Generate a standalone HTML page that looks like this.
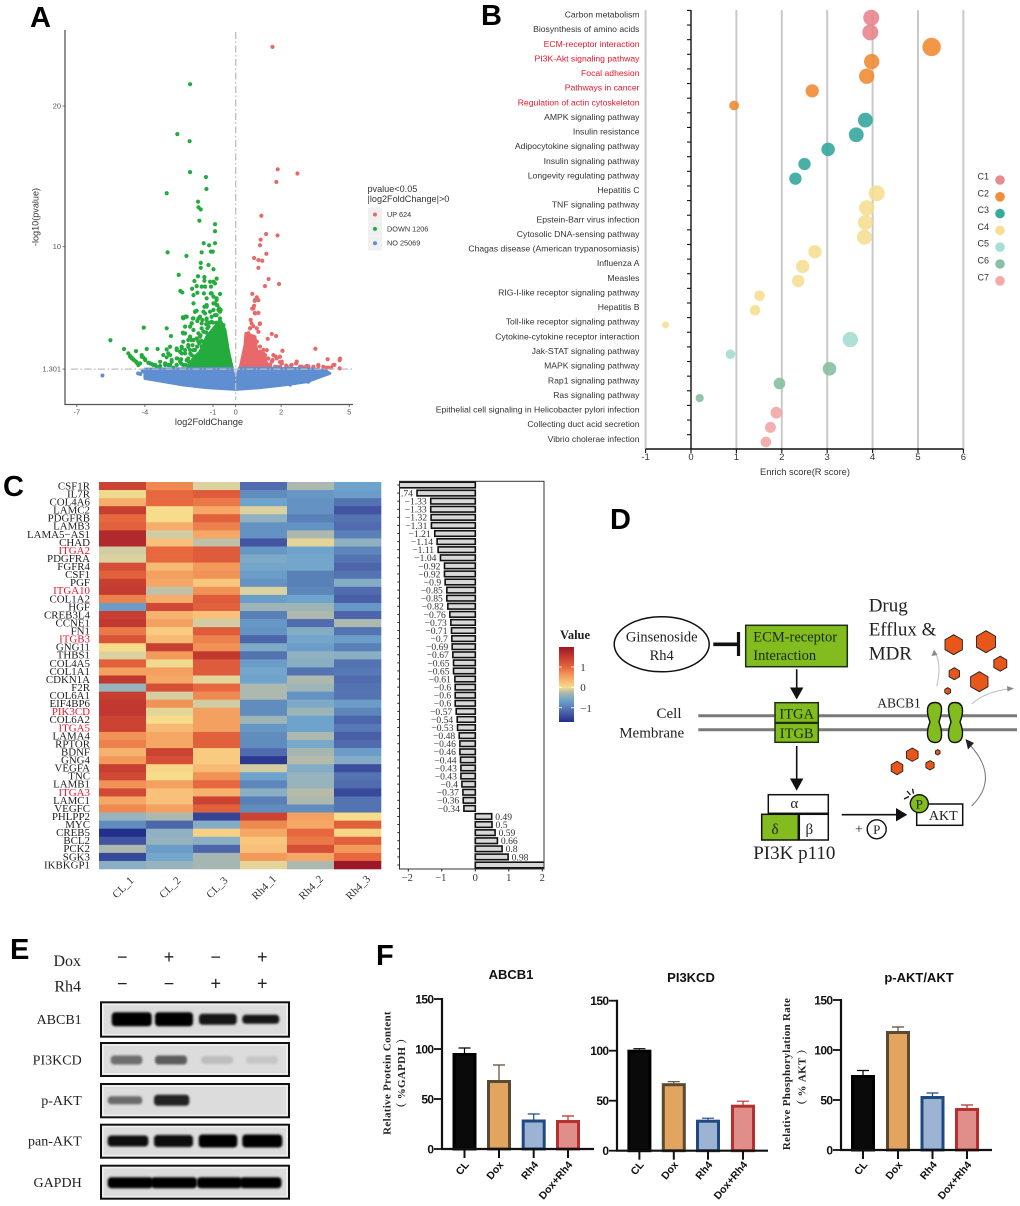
<!DOCTYPE html>
<html lang="en">
<head>
<meta charset="utf-8">
<title>Multi-panel figure</title>
<style>
html,body{margin:0;padding:0;background:#fff;}
svg{display:block;}
.ser{font-family:"Liberation Serif",serif;}
.san{font-family:"Liberation Sans",sans-serif;}
.pl{font-family:"Liberation Sans",sans-serif;font-weight:bold;font-size:29px;fill:#000;}
</style>
</head>
<body>
<svg id="fig" xmlns="http://www.w3.org/2000/svg" width="1020" height="1206" viewBox="0 0 1020 1206">
<defs>
<filter id="bl" x="-20%" y="-80%" width="140%" height="260%"><feGaussianBlur stdDeviation="1.1"/></filter>
<linearGradient id="cbar" x1="0" y1="0" x2="0" y2="1">
<stop offset="0" stop-color="#9c1727"/><stop offset=".16" stop-color="#cb4332"/><stop offset=".27" stop-color="#e7673f"/><stop offset=".38" stop-color="#f39a5b"/><stop offset=".47" stop-color="#f8c07a"/><stop offset=".54" stop-color="#f5dc8b"/><stop offset=".6" stop-color="#b5baa9"/><stop offset=".71" stop-color="#6ea3cb"/><stop offset=".8" stop-color="#5a80b8"/><stop offset=".89" stop-color="#4558a4"/><stop offset="1" stop-color="#232f8a"/>
</linearGradient>
<clipPath id="barclip"><rect x="399.5" y="481" width="144.5" height="388"/></clipPath>
</defs>

<text class="pl" x="30" y="27">A</text>
<text class="pl" x="481" y="25">B</text>
<text class="pl" x="3" y="496">C</text>
<text class="pl" x="610" y="529">D</text>
<text class="pl" x="10" y="959">E</text>
<text class="pl" x="376" y="965">F</text>

<g id="panelA"></g>
<g id="panelB"></g>
<g id="panelC"></g>
<g id="panelC2"></g>

<g id="colorLegend">
<text class="ser" x="575" y="639" text-anchor="middle" font-size="12.5" font-weight="bold" fill="#222">Value</text>
<rect x="559" y="647" width="15" height="75" fill="url(#cbar)"/>
<path d="M559 667h3M571 667h3M559 687.3h3M571 687.3h3M559 707.7h3M571 707.7h3" stroke="#fff" stroke-width=".8"/>
<text class="ser" x="583" y="671" text-anchor="middle" font-size="11" fill="#333">1</text>
<text class="ser" x="583" y="691" text-anchor="middle" font-size="11" fill="#333">0</text>
<text class="ser" x="586" y="712" text-anchor="middle" font-size="11" fill="#333">−1</text>
</g>

<g id="panelD" class="ser" fill="#222">
<ellipse cx="661.7" cy="644.3" rx="47.5" ry="27.5" fill="#fff" stroke="#111" stroke-width="1.5"/>
<text x="661.7" y="641.7" text-anchor="middle" font-size="14.5">Ginsenoside</text>
<text x="661.7" y="660" text-anchor="middle" font-size="14.5">Rh4</text>
<path d="M713.3 644.3H738.3" stroke="#111" stroke-width="3.6"/>
<path d="M738.5 632V656" stroke="#111" stroke-width="3.2"/>
<rect x="745.7" y="625.3" width="101.6" height="41.4" fill="#83bc1f" stroke="#1c2f10" stroke-width="1.5"/>
<text x="753.3" y="641.7" font-size="14.5" fill="#1a2a0c">ECM-receptor</text>
<text x="753.3" y="660" font-size="14.5" fill="#1a2a0c">Interaction</text>
<path d="M796.7 669.3V688" stroke="#111" stroke-width="1.6"/>
<path d="M790 687.5H803.4L796.7 699.5Z" fill="#111"/>
<path d="M698.3 715.7H1017" stroke="#7a7a7a" stroke-width="3"/>
<path d="M698.3 729.7H1017" stroke="#7a7a7a" stroke-width="3"/>
<text x="669" y="718" text-anchor="middle" font-size="15">Cell</text>
<text x="651.7" y="737.3" text-anchor="middle" font-size="15">Membrane</text>
<rect x="775" y="702.7" width="43.3" height="19.8" fill="#83bc1f" stroke="#1c2f10" stroke-width="1.5"/>
<rect x="775" y="723.3" width="43.3" height="19" fill="#83bc1f" stroke="#1c2f10" stroke-width="1.5"/>
<text x="796.7" y="718.3" text-anchor="middle" font-size="14.5" fill="#1a2a0c">ITGA</text>
<text x="796.7" y="738" text-anchor="middle" font-size="14.5" fill="#1a2a0c">ITGB</text>
<path d="M796.7 746V779" stroke="#111" stroke-width="1.6"/>
<path d="M790 778.5H803.4L796.7 790.7Z" fill="#111"/>
<rect x="768.3" y="794.7" width="60" height="18.6" fill="#fff" stroke="#111" stroke-width="1.5"/>
<rect x="761.7" y="814.3" width="36.6" height="25.7" fill="#83bc1f" stroke="#111" stroke-width="1.5"/>
<rect x="799.3" y="814.3" width="29" height="25.7" fill="#fff" stroke="#111" stroke-width="1.5"/>
<text x="794.3" y="808" text-anchor="middle" font-size="15">α</text>
<text x="775" y="834" text-anchor="middle" font-size="15">δ</text>
<text x="809.3" y="834" text-anchor="middle" font-size="15">β</text>
<text x="794.3" y="859" text-anchor="middle" font-size="19">PI3K p110</text>
<path d="M841.7 814.7H897" stroke="#111" stroke-width="1.6"/>
<path d="M896 808V821.4L907.3 814.7Z" fill="#111"/>
<text x="859" y="833.5" text-anchor="middle" font-size="14">+</text>
<circle cx="876.7" cy="829.3" r="9.5" fill="#fff" stroke="#111" stroke-width="1.4"/>
<text x="876.7" y="834" text-anchor="middle" font-size="13">P</text>
<rect x="916.7" y="804" width="46" height="21.3" fill="#fff" stroke="#111" stroke-width="1.5"/>
<text x="943.3" y="820" text-anchor="middle" font-size="14">AKT</text>
<circle cx="919.3" cy="803.7" r="9" fill="#83bc1f" stroke="#111" stroke-width="1.4"/>
<text x="919.3" y="808.3" text-anchor="middle" font-size="13">P</text>
<path d="M904 799L909 796.5M907 791L910.5 795M912.5 788.7L913.5 793.7" stroke="#111" stroke-width="1.3"/>
<text x="899" y="707.3" text-anchor="middle" font-size="13.5">ABCB1</text>
<path d="M935 702.5C926 702.5 926 712 930 722C926 732 926 742.5 935.5 742.5C944 742.5 942 730 939 722C942 712 944 702.5 935 702.5Z" fill="#83bc1f" stroke="#111" stroke-width="1.4"/>
<path d="M955 702.5C964 702.5 964 712 960 722C964 732 964 742.5 954.5 742.5C946 742.5 948 730 951 722C948 712 946 702.5 955 702.5Z" fill="#83bc1f" stroke="#111" stroke-width="1.4"/>
<path d="M936.7 686Q942 665 935 652" fill="none" stroke="#bdbdbd" stroke-width="1"/>
<path d="M931.5 656L934 649.5L937.5 655Z" fill="#8a8a8a"/>
<path d="M971.7 704Q985 692 1008 689" fill="none" stroke="#bdbdbd" stroke-width="1"/>
<path d="M1007 686L1014 688.5L1007.5 691.5Z" fill="#8a8a8a"/>
<path d="M971.7 806Q1000 778 970 745" fill="none" stroke="#777" stroke-width="1"/>
<path d="M965.5 739L974 743L968 749.5Z" fill="#222"/>
<text x="868.7" y="611.7" font-size="19">Drug</text>
<text x="868.7" y="635.7" font-size="19">Efflux &amp;</text>
<text x="868.7" y="659.3" font-size="19">MDR</text>
<g id="hexes"></g>
</g>

<g id="panelE" class="ser" fill="#222">
<text x="81" y="966" text-anchor="end" font-size="16">Dox</text>
<text x="81" y="991.7" text-anchor="end" font-size="16">Rh4</text>
</g>

<g id="panelF"></g>
</svg>

<script>
/* ---------- Panel A data ---------- */
const upLfc=[1.62,1.85,2.72,1.79,1.13,1.34,1.84,1.10,1.07,1.35,0.81,1.0,1.17,1.0,1.45,1.29,1.91,0.73,0.93,0.84,1.0,0.81,0.73,0.84,1.0,0.66,1.06,0.63,0.78,1.59,1.78,1.41,0.56,1.0,3.51,2.06,4.05,4.6,4.58,4.58,4.35,4.07,3.64,3.2,3.03,2.66,2.44,2.22,1.95,1.76,1.63,1.37,1.22,1.44,1.07,0.93,1.29,1.51,1.81,2.03,1.0,1.15,2.83,3.42,4.2,0.85,0.78,0.85,0.70,0.63,0.93,1.07,0.93,1.07,1.22,1.29,1.37,1.15,1.59,1.81,1.66,2.06,1.95,2.03,2.25,2.47,2.69,2.91,3.13,3.64,1.22,1.51,1.73,1.95,4.01,4.30,3.86];
const upP=[24.2,15.5,15.2,14.6,12.2,10.9,10.8,10.5,10.1,9.5,9.2,9.05,9.0,8.5,7.7,7.2,7.35,6.65,6.4,6.15,6.2,5.8,5.6,5.3,5.3,4.8,4.5,4.2,4.35,3.8,3.65,3.45,3.85,3.95,2.75,2.6,2.0,2.05,1.93,1.35,1.6,1.4,1.5,1.5,1.42,1.7,1.56,1.56,1.8,2.2,1.95,2.65,2.4,2.05,2.9,3.25,1.7,1.6,1.45,1.7,2.4,2.1,1.47,1.47,1.4,6.21,5.62,5.26,4.55,4.2,4.2,4.55,2.42,2.54,2.66,2.30,2.06,2.06,1.83,2.06,2.30,2.61,2.18,1.83,1.47,1.59,1.83,1.47,1.52,1.59,1.71,1.47,1.47,1.47,1.40,1.59,1.47];
const downLfc=[-2.01,-2.57,-2.03,-2.01,-1.31,-1.29,-3.04,-1.66,-1.64,-1.54,-1.6,-0.91,-0.91,-1.41,-1.17,-0.91,-3.0,-2.17,-1.5,-1.09,-1.01,-1.54,-1.54,-1.2,-0.98,-2.51,-1.66,-2.44,-2.35,-4.05,-3.04,-2.85,-5.52,-4.92,-4.39,-3.92,-3.44,-1.38,-1.38,-1.82,-1.72,-1.92,-1.5,-1.35,-1.13,-0.98,-0.84,-0.91,-1.09,-1.1,-0.69,-0.98,-0.84,-1.69,-1.86,-1.4,-1.86,-1.38,-1.28,-0.98,-0.81,-0.73,-1.13,-1.35,-1.57,-1.79,-1.72,-2.23,-2.33,-2.16,-1.89,-1.94,-1.69,-1.47,-1.28,-1.06,-0.84,-0.69,-0.69,-2.33,-1.86,-1.64,-1.42,-4.73,-4.65,-4.58,-4.48,-4.36,-4.29,-4.21,-4.14,-3.99,-3.85,-3.7,-3.55,-3.04,-2.89,-2.6,-2.38,-3.19,-2.97,-3.33,-3.11,-2.82,-2.6,-2.38,-2.23,-2.31,-2.01,-1.94,-2.09,-1.72,-1.6,-1.86,-2.16,-2.6,-2.89,-1.9,-1.8,-1.75,-2.0,-1.7,-2.2,-2.4,-2.4,-2.05,-1.5,-1.3,-1.55,-1.25,-1.15,-1.0,-1.3,-0.85,-1.65,-1.5,-3.04,-2.89,-3.11,-2.97,-2.82,-2.60,-2.45,-2.57,-2.45,-2.31,-2.60,-2.75,-2.38,-2.23,-2.09,-2.01,-2.09,-1.94,-1.79,-1.86,-2.01,-1.64,-1.57,-1.50,-1.57,-1.35,-1.28,-1.64,-1.42,-1.94,-1.72,-1.42,-1.20,-1.06,-1.28,-1.50,-0.91,-0.76,-0.98,-0.84,-0.66,-1.28,-1.42,-1.79,-1.64,-1.86,-2.19,-2.31,-2.23,-2.01,-1.94,-0.54,-2.23,-2.09,-2.31,-1.28,-1.06,-0.84,-0.91,-4.65,-4.58,-4.51,-4.39,-4.14,-4.07,-3.99,-3.77,-3.63,-3.48,-3.33];
const downP=[21.55,18.0,17.5,15.3,14.95,14.1,13.8,13.2,12.8,12.65,11.85,11.6,11.1,10.25,10.1,10.25,9.6,9.35,9.6,9.65,9.65,8.85,8.5,8.7,8.4,8.0,7.9,6.85,6.75,4.25,4.2,3.65,3.35,2.73,2.58,2.73,2.73,7.84,7.58,7.56,7.2,7.01,7.16,7.16,7.51,7.51,7.73,7.39,7.16,6.68,6.64,6.45,6.21,6.73,6.56,6.68,5.97,5.73,5.85,5.97,5.85,5.62,5.38,5.26,5.02,5.38,5.45,5.02,4.98,5.02,4.9,4.55,4.72,4.79,4.9,5.02,5.14,5.38,4.9,3.89,4.08,3.84,3.96,2.42,2.18,2.06,1.94,1.75,1.59,1.71,2.18,1.94,1.75,1.66,1.59,2.7,2.89,2.77,2.89,2.3,2.42,1.82,1.59,1.82,2.06,2.42,2.65,3.25,3.6,3.36,2.89,3.48,3.13,2.65,1.94,1.59,1.59,3.0,2.2,1.8,2.4,2.9,1.6,1.7,2.0,1.8,4.2,4.5,3.7,4.2,4.6,4.6,3.9,4.6,3.3,3.3,2.14,2.30,1.71,1.59,1.95,2.66,2.54,2.06,1.83,1.59,1.59,1.40,2.78,2.42,3.01,2.66,2.06,2.30,2.66,3.37,3.60,3.25,3.60,2.89,2.18,2.66,2.18,1.71,1.71,1.59,1.47,3.96,4.32,4.67,4.79,4.55,5.14,5.50,5.50,5.86,5.50,5.74,5.38,5.38,4.91,4.91,5.03,4.91,4.32,4.32,4.55,4.43,3.84,3.37,3.84,6.33,6.68,6.33,5.97,2.23,2.11,1.99,1.83,2.30,2.13,1.99,1.71,1.59,1.47,1.52];
const noLfc=[-5.87,-4.3,-4.2,-4.1,-3.95,3.0,3.2,2.6,3.4,3.7,3.8,4.0,2.4];
const noP=[0.85,1.0,0.95,1.15,0.7,0.5,0.4,0.3,0.7,0.9,1.0,1.1,0.2];
/* dense clouds as envelopes: log2FC and -log10p */
const downCloudLfc=[-2.13,-1.87,-1.57,-1.28,-0.91,-0.69,-0.47,-0.33,-0.15];
const downCloudP=[1.36,2.07,2.54,3.6,4.31,4.79,4.08,2.66,1.36];
const upCloudLfc=[0.19,0.41,0.45,0.85,0.92,1.29,1.51];
const upCloudP=[1.36,3.0,3.84,3.6,2.66,1.95,1.36];
const noCloudLfc=[-4.0,-0.15,-0.02,0.02,0.15,2.5,3.5,3.9,4.15,3.13,2.1,1.07,0,-1.28,-2.3,-4.0];
const noCloudP=[1.3,1.35,0.35,0.35,1.35,1.35,1.3,1.2,1.0,0.4,0.17,-0.02,-0.14,-0.02,0.17,0.64];
const volXTicks=[-7,-4,-1,0,2,5];
const volYTicks=[20,10,1.301];
const volLegendLabels=["UP 624","DOWN 1206","NO 25069"];

/* ---------- Panel B data ---------- */
const pathways=["Carbon metabolism","Biosynthesis of amino acids","ECM-receptor interaction","PI3K-Akt signaling pathway","Focal adhesion","Pathways in cancer","Regulation of actin cytoskeleton","AMPK signaling pathway","Insulin resistance","Adipocytokine signaling pathway","Insulin signaling pathway","Longevity regulating pathway","Hepatitis C","TNF signaling pathway","Epstein-Barr virus infection","Cytosolic DNA-sensing pathway","Chagas disease (American trypanosomiasis)","Influenza A","Measles","RIG-I-like receptor signaling pathway","Hepatitis B","Toll-like receptor signaling pathway","Cytokine-cytokine receptor interaction","Jak-STAT signaling pathway","MAPK signaling pathway","Rap1 signaling pathway","Ras signaling pathway","Epithelial cell signaling in Helicobacter pylori infection","Collecting duct acid secretion","Vibrio cholerae infection"];
const enrichScores=[3.97,3.95,5.3,3.98,3.87,2.67,0.95,3.84,3.64,3.02,2.5,2.3,4.09,3.87,3.84,3.82,2.73,2.46,2.36,1.51,1.41,-0.56,3.51,0.87,3.05,1.95,0.19,1.88,1.75,1.65];
const geneCounts=[64,64,85,59,59,44,24,55,55,46,38,38,64,59,56,56,44,44,38,28,28,12,59,23,46,34,17,34,30,28];
const clusterOf=[1,1,2,2,2,2,2,3,3,3,3,3,4,4,4,4,4,4,4,4,4,4,5,5,6,6,6,7,7,7];
const highlighted=[2,3,4,5,6];
const enrichTicks=[-1,0,1,2,3,4,5,6];
const clusterNames=["C1","C2","C3","C4","C5","C6","C7"];

/* ---------- Panel C data ---------- */
const genes=["CSF1R","IL7R","COL4A6","LAMC2","PDGFRB","LAMB3","LAMA5−AS1","CHAD","ITGA2","PDGFRA","FGFR4","CSF1","PGF","ITGA10","COL1A2","HGF","CREB3L4","CCNE1","FN1","ITGB3","GNG11","THBS1","COL4A5","COL1A1","CDKN1A","F2R","COL6A1","EIF4BP6","PIK3CD","COL6A2","ITGA5","LAMA4","RPTOR","BDNF","GNG4","VEGFA","TNC","LAMB1","ITGA3","LAMC1","VEGFC","PHLPP2","MYC","CREB5","BCL2","PCK2","SGK3","IKBKGP1"];
const redGenes=["ITGA2","ITGA10","ITGB3","PIK3CD","ITGA5","ITGA3"];
const samples=["CL_1","CL_2","CL_3","Rh4_1","Rh4_2","Rh4_3"];
const heatValues=[
[1.4,.9,.05,-1.15,-.2,-.7],[.2,1.1,1.2,-.9,-.8,-.75],[.65,1.1,1.0,-.7,-.85,-1.1],[1.45,.25,.7,.05,-.85,-1.35],
[1.1,.25,1.15,-.4,-1.0,-1.1],[1.15,.65,.95,-.85,-.85,-1.15],[1.75,-.0,.7,-.85,-.2,-1.0],[1.75,.5,-.1,-1.35,.1,-.4],
[.0,1.1,1.2,-.8,-.7,-.95],[.05,1.1,1.2,-.55,-.65,-1.1],[1.3,.55,.8,-.65,-.65,-1.2],[1.15,.75,.85,-.75,-1.0,-1.1],
[1.45,.7,.45,-.85,-1.0,-.5],[1.5,-.1,.85,.05,-.95,-1.15],[.95,.65,1.2,-.75,-.7,-1.25],[-.75,1.35,1.15,-.3,-.3,-.8],
[1.45,.6,.5,-1.0,-.2,-1.2],[1.55,.75,.0,-.8,-1.15,-.2],[1.0,.4,1.2,-.85,-.5,-1.1],[1.25,.55,.95,-1.2,-.65,-.75],
[.25,1.45,.85,-.55,-.75,-1.0],[.05,.8,1.55,-1.1,-.4,-.45],[1.15,.2,1.2,-.75,-.45,-1.1],[.75,.75,1.2,-.65,-1.1,-1.05],
[1.55,.7,.1,-.7,-.2,-1.15],[-.35,1.3,1.1,-.2,-.3,-1.1],[1.45,.02,.9,-.2,-.85,-1.1],[1.55,.85,.0,-.9,-.55,-.75],
[1.55,.1,.75,-.9,-.3,-.95],[1.4,.25,.75,-.3,-.7,-1.2],[1.4,.55,.75,-.8,-.7,-1.05],[.85,.7,1.15,-.9,-.2,-1.25],
[.95,.7,1.15,-.9,-.6,-1.15],[.6,1.4,.4,-1.15,-.25,-.75],[.8,1.3,.4,-1.6,-.15,-.5],[1.45,.3,.55,.0,-.5,-1.4],
[1.35,.25,.85,-.7,-.35,-1.1],[.85,.75,1.1,-.95,-.35,-1.15],[1.35,.5,.6,-.45,-.15,-1.45],[.7,.5,1.4,-1.0,-.2,-1.1],
[.9,.75,1.15,-.9,-.9,-1.1],[-.35,-.2,-1.5,1.4,.75,.25],[-.9,-1.2,-.5,.9,.7,1.15],[-1.7,-.4,.35,.7,1.1,.3],
[-1.35,-.35,-.45,.45,1.0,1.15],[-.2,-.75,-1.2,.5,1.3,.8],[-1.45,-.65,-.25,.8,.7,1.1],[-.45,-.35,-.25,.1,-.2,2.0]];
const foldChanges=[-2.3,-1.74,-1.33,-1.33,-1.32,-1.31,-1.21,-1.14,-1.11,-1.04,-0.92,-0.92,-0.9,-0.85,-0.85,-0.82,-0.76,-0.73,-0.71,-0.7,-0.69,-0.67,-0.65,-0.65,-0.61,-0.6,-0.6,-0.6,-0.57,-0.54,-0.53,-0.48,-0.46,-0.46,-0.44,-0.43,-0.43,-0.4,-0.37,-0.36,-0.34,0.49,0.5,0.59,0.66,0.8,0.98,2.3];
const fcTicks=[-2,-1,0,1,2];

/* ---------- Panel E data ---------- */
const doxSigns=["−","+","−","+"];
const rh4Signs=["−","−","+","+"];
const blotNames=["ABCB1","PI3KCD","p-AKT","pan-AKT","GAPDH"];
const blotBandIntensity=[[1,1,.92,.9],[.5,.58,.14,.1],[.52,.85,0,0],[.97,.97,.98,.98],[.98,.98,.98,.98]];

/* ---------- Panel F data ---------- */
const groups=["CL","Dox","Rh4","Dox+Rh4"];
const abcb1Means=[96,69,29.5,29];
const abcb1Errs=[5,15,5.5,4];
const pi3kcdMeans=[101,67.5,31,46];
const pi3kcdErrs=[1,1.5,1.5,3.5];
const paktMeans=[75,119,54,42];
const paktErrs=[4.5,4,3,3];
const barTicks=[0,50,100,150];

/* ---------- helpers ---------- */
const NS="http://www.w3.org/2000/svg";
function mk(tag,attrs,parent){const e=document.createElementNS(NS,tag);for(const k in attrs)e.setAttribute(k,attrs[k]);parent.appendChild(e);return e;}
const $=id=>document.getElementById(id);
const SANS='"Liberation Sans",sans-serif',SERIF='"Liberation Serif",serif';

/* ---------- Panel A ---------- */
(function(){
const g=$("panelA");
const X=v=>235.7+22.7*v, Y=v=>246.7-(v-10)*14.07;
let el;
el=mk("path",{d:"M65 30V404.5H353",fill:"none",stroke:"#555","stroke-width":1.3},g);


volXTicks.forEach(t=>{
  const tk=mk("path",{d:`M${X(t)} 404.5v2.5`,stroke:"#555","stroke-width":.8},g);
  
  
  const lb=mk("text",{x:X(t),y:414.5,"text-anchor":"middle","font-size":7.4,"font-family":SANS,fill:"#555"},g);
  
  
  lb.textContent=t;
});
volYTicks.forEach(t=>{
  const tk=mk("path",{d:`M62.5 ${Y(t)}H65`,stroke:"#555","stroke-width":.8},g);
  
  
  const lb=mk("text",{x:61,y:Y(t)+2.5,"text-anchor":"end","font-size":7.4,"font-family":SANS,fill:"#555"},g);
  
  
  lb.textContent=t;
});
el=mk("text",{x:209,y:425,"text-anchor":"middle","font-size":9.3,"font-family":SANS,fill:"#333"},g);


el.textContent="log2FoldChange";
el=mk("text",{transform:"translate(38.5,217) rotate(-90)","text-anchor":"middle","font-size":9.1,"font-family":SANS,fill:"#333"},g);


el.textContent="-log10(pvalue)";

function cloud(lf,pv,col,name){
  const d=lf.map((v,i)=>(i?"L":"M")+X(v)+" "+Y(pv[i])).join("")+"Z";
  const c=mk("path",{d:d,fill:col,stroke:col,"stroke-width":3,"stroke-linejoin":"round"},g);
  
  
}
cloud(downCloudLfc,downCloudP,"#24ab3d",'down-regulated-cloud');
downLfc.forEach((v,i)=>{
  const c=mk("circle",{cx:X(v),cy:Y(downP[i]),r:2.1,fill:"#24ab3d"},g);
  
  
});
cloud(upCloudLfc,upCloudP,"#e8696b",'up-regulated-cloud');
upLfc.forEach((v,i)=>{
  const c=mk("circle",{cx:X(v),cy:Y(upP[i]),r:2.1,fill:"#e8696b"},g);
  
  
});
cloud(noCloudLfc,noCloudP,"#5f8fd0",'not-significant-cloud');
noLfc.forEach((v,i)=>{
  const c=mk("circle",{cx:X(v),cy:Y(noP[i]),r:2,fill:"#5f8fd0"},g);
  
  
});
el=mk("path",{d:"M235.7 32V400",stroke:"#bdbdbd","stroke-width":1.3,"stroke-dasharray":"7 2.5 1.5 2.5",fill:"none"},g);


el=mk("path",{d:`M71 ${Y(1.301)}H353`,stroke:"#bdbdbd","stroke-width":1.3,"stroke-dasharray":"7 2.5 1.5 2.5",fill:"none"},g);


el=mk("text",{x:367.5,y:192,"font-size":9.1,"font-family":SANS,fill:"#333"},g);


el.textContent="pvalue<0.05";
el=mk("text",{x:367.5,y:202,"font-size":9.1,"font-family":SANS,fill:"#333"},g);


el.textContent="|log2FoldChange|>0";
const cols=["#e8696b","#24ab3d","#5f8fd0"];
volLegendLabels.forEach((t,i)=>{
  const y=214.5+14.4*i;
  const bx=mk("rect",{x:368,y:y-7,width:14,height:14,fill:"#f0f0f0"},g);
  
  
  const dot=mk("circle",{cx:375,cy:y,r:2,fill:cols[i]},g);
  
  
  const lb=mk("text",{x:387,y:y+2.4,"font-size":7.3,"font-family":SANS,fill:"#333"},g);
  
  
  lb.textContent=t;
});
})();

/* ---------- Panel B ---------- */
(function(){
const g=$("panelB");
const X=v=>691+45.4*v, Y=i=>17.7+14.63*i;
const clusterCols=["#e8838a","#f0872f","#2fa59b","#f5dd8f","#a4dcd3","#84bda0","#f4a3a3"];
enrichTicks.forEach(t=>{
  if(t!==0){
    const l=mk("path",{d:`M${X(t)} 10V449`,stroke:"#c9c9c9","stroke-width":2},g);
    
    
  }
  const tk=mk("path",{d:`M${X(t)} 449v4`,stroke:"#111","stroke-width":1.1},g);
  
  
  const lb=mk("text",{x:X(t),y:460,"text-anchor":"middle","font-size":9.5,"font-family":SANS,fill:"#333"},g);
  
  
  lb.textContent=t;
});
let el=mk("path",{d:`M${X(0)} 10V449M${X(-1)} 449H${X(6)}`,stroke:"#111","stroke-width":1.4,fill:"none"},g);


el=mk("text",{x:805,y:475,"text-anchor":"middle","font-size":9.3,"font-family":SANS,fill:"#333"},g);


el.textContent="Enrich score(R score)";
pathways.forEach((p,i)=>{
  const tk=mk("path",{d:`M${X(0)-4} ${Y(i)-7.3}H${X(0)}`,stroke:"#111","stroke-width":1.1},g);
  
  
  const lb=mk("text",{x:639.5,y:Y(i)-0.2,"text-anchor":"end","font-size":8.65,"font-family":SANS,fill:highlighted.includes(i)?"#e8162c":"#333"},g);
  
  
  lb.textContent=p;
  const c=mk("circle",{cx:X(enrichScores[i]),cy:Y(i),r:Math.sqrt(geneCounts[i]),fill:clusterCols[clusterOf[i]-1],"fill-opacity":.88},g);
  
  
});
clusterNames.forEach((n,i)=>{
  const y=180+16.8*i;
  const t=mk("text",{x:977.5,y:y-0.5,"font-size":9,"font-family":SANS,fill:"#333"},g);
  
  
  t.textContent=n;
  const c=mk("circle",{cx:1000,cy:y,r:4.8,fill:clusterCols[i],"fill-opacity":.95},g);
  
  
});
})();

/* ---------- Panel C ---------- */
(function(){
const stopVals=[-1.7,-1.3,-1,-.7,-.4,-.15,.05,.25,.5,.8,1.1,1.4,1.7,2];
const stopCols=[[35,47,138],[69,88,164],[90,128,184],[110,163,203],[143,177,194],[181,186,169],[220,210,159],[247,220,139],[248,192,122],[243,154,91],[231,103,63],[203,67,50],[181,45,46],[156,23,39]];
function color(v){
  if(v<=stopVals[0])return `rgb(${stopCols[0]})`;
  for(let i=1;i<stopVals.length;i++){
    if(v<=stopVals[i]){
      const f=(v-stopVals[i-1])/(stopVals[i]-stopVals[i-1]);
      return "rgb("+stopCols[i].map((c,k)=>Math.round(stopCols[i-1][k]+(c-stopCols[i-1][k])*f)).join(",")+")";
    }
  }
  return `rgb(${stopCols[stopCols.length-1]})`;
}
const g=$("panelC");
const x0=99,cw=47,y0=482,rh=387/48;
heatValues.forEach((row,r)=>{
  row.forEach((v,c)=>{
    const cell=mk("rect",{x:x0+cw*c,y:y0+rh*r,width:cw+.3,height:rh+.3,fill:color(v)},g);
    
    
  });
});
genes.forEach((n,r)=>{
  const t=mk("text",{x:90,y:y0+rh*r+rh/2+3.4,"text-anchor":"end","font-size":10.9,"font-family":SERIF,fill:redGenes.includes(n)?"#e8162c":"#222"},g);
  
  
  t.textContent=n;
});
samples.forEach((n,c)=>{
  const cx=x0+cw*c+cw/2;
  const t=mk("text",{transform:`translate(${cx+3},890) rotate(-45)`,"text-anchor":"middle","font-size":11,"font-family":SERIF,fill:"#333"},g);
  
  
  t.textContent=n;
});

/* fold-change bars */
const b=$("panelC2");
const X=v=>475.3+33.5*v, Y=i=>485+8.085*i;
const clip=mk("g",{"clip-path":"url(#barclip)"},b);


foldChanges.forEach((v,i)=>{
  const x1=Math.min(X(0),X(v)),w=Math.abs(X(v)-X(0));
  const r=mk("rect",{x:x1,y:Y(i)-2.8,width:w,height:5.6,fill:"#d8d8d8",stroke:"#111","stroke-width":1.6},clip);
  
  
  const tk=mk("path",{d:`M397.3 ${Y(i)}H399.5`,stroke:"#222","stroke-width":1},b);
  
  
  if(i>0&&i<foldChanges.length-1){
    const neg=v<0;
    const t=mk("text",{x:neg?X(v)-4:X(v)+3.5,y:Y(i)+3.4,"text-anchor":neg?"end":"start","font-size":9.6,"font-family":SERIF,fill:"#333"},clip);
    
    
    t.textContent=(neg?"−":"")+Math.abs(v);
  }
});
const box=mk("rect",{x:399.5,y:481.3,width:144.5,height:387.7,fill:"none",stroke:"#333","stroke-width":1},b);


fcTicks.forEach(t=>{
  const tk=mk("path",{d:`M${X(t)} 869v2.5`,stroke:"#222","stroke-width":1},b);
  
  
  const lb=mk("text",{x:X(t)+(t<0?-1:0),y:881,"text-anchor":"middle","font-size":10.5,"font-family":SERIF,fill:"#333"},b);
  
  
  lb.textContent=(t<0?"−":"")+Math.abs(t);
});
})();

/* ---------- Panel D molecules ---------- */
(function(){
const hexCenters=[[953.7,644.7,10],[986,641.7,11],[1000.3,663.7,7.5],[954.3,673.7,6],[979.3,681.7,10],[947.7,691,3.3],[912.3,754.7,6.7],[897,768,6.7],[930,765.3,4.7],[937.7,752.3,2.7]];
const g=$("hexes");
hexCenters.forEach(h=>{
  const pts=[];
  for(let k=0;k<6;k++){const a=Math.PI/3*k+Math.PI/6;pts.push((h[0]+h[2]*Math.cos(a)).toFixed(1)+","+(h[1]+h[2]*Math.sin(a)).toFixed(1));}
  const p=mk("polygon",{points:pts.join(" "),fill:"#e8561a",stroke:"#222","stroke-width":.9},g);
  
  
});
})();

/* ---------- Panel E ---------- */
(function(){
const g=$("panelE");
const laneX=[122.3,169,215.7,262.3];
[doxSigns,rh4Signs].forEach((arr,r)=>{
  arr.forEach((s,i)=>{
    const t=mk("text",{x:laneX[i],y:r===0?963:989.5,"text-anchor":"middle","font-size":18,"font-family":SANS,fill:"#222"},g);
    
    
    t.textContent=s;
  });
});
const boxY=[1002.3,1043,1084,1124.7,1165.7];
const boxH=[34.4,33,33.3,33,33];
const bandY=[1019.3,1060,1100.3,1141,1182.7];
const bandH=[[14,14,11,9],[9,9,8,8],[8,11,5,5],[11,12,13,13],[11,11,11,11]];
const bandL=[[111.7,155,199,242.3],[110.7,155,201,246],[107.7,154,199,243],[107.7,154,198.7,242.3],[107.7,151,197,240]];
const bandR=[[151.7,193,236.7,279.3],[142.3,187,233,278],[142.3,189.3,236,280],[148.3,193,237.3,282.3],[153,197,242,281.5]];
blotNames.forEach((n,r)=>{
  const bx=mk("rect",{x:101,y:boxY[r],width:188,height:boxH[r],fill:"#dcdcdc",stroke:"#111","stroke-width":2},g);
  
  
  const inner=mk("rect",{x:103,y:boxY[r]+2,width:184,height:boxH[r]-4,fill:"none",stroke:"#efefef","stroke-width":1.6},g);
  
  
  blotBandIntensity[r].forEach((v,i)=>{
    if(v<=0)return;
    const c=Math.round(220*(1-v));
    const b=mk("rect",{x:bandL[r][i],y:bandY[r]-bandH[r][i]/2,width:bandR[r][i]-bandL[r][i],height:bandH[r][i],rx:3.5,fill:`rgb(${c},${c},${c})`,filter:"url(#bl)"},g);
    
    
  });
  const t=mk("text",{x:81.7,y:bandY[r]+4.5,"text-anchor":"end","font-size":14,"font-family":SERIF,fill:"#222"},g);
  
  
  t.textContent=n;
});
})();

/* ---------- Panel F ---------- */
(function(){
const g=$("panelF");
const fills=["#0a0a0a","#e2a55f","#9db3d3","#e08e8a"];
const strokes=["#000","#5a4a32","#1f4a80","#b5302f"];
const charts=[
 {title:"ABCB1",tx:511,ty:979,ax:442,end:594,y0:1149,means:abcb1Means,errs:abcb1Errs,bars:[464.5,499,533.7,568]},
 {title:"PI3KCD",tx:691,ty:982,ax:617,end:768,y0:1150.7,means:pi3kcdMeans,errs:pi3kcdErrs,bars:[639.4,673.8,708,743]},
 {title:"p-AKT/AKT",tx:919,ty:982,ax:841,end:992,y0:1150,means:paktMeans,errs:paktErrs,bars:[863,898,932.5,967]}
];
charts.forEach(ch=>{
  const Y=v=>ch.y0-v;
  const tt=mk("text",{x:ch.tx,y:ch.ty,"text-anchor":"middle","font-size":13,"font-weight":"bold","font-family":SANS,fill:"#111"},g);
  
  
  tt.textContent=ch.title;
  ch.means.forEach((m,i)=>{
    const cx=ch.bars[i];
    const err=mk("path",{d:`M${cx} ${Y(m)}V${Y(m+ch.errs[i])}M${cx-6} ${Y(m+ch.errs[i])}H${cx+6}`,stroke:strokes[i],"stroke-width":1.2,fill:"none"},g);
    
    
    const r=mk("rect",{x:cx-10.5,y:Y(m)+1.5,width:21,height:m-1.5,fill:fills[i],stroke:strokes[i],"stroke-width":3},g);
    
    
    const tk=mk("path",{d:`M${cx} ${ch.y0}v9`,stroke:"#111","stroke-width":2},g);
    
    
    const t=mk("text",{transform:`translate(${cx+5},1165) rotate(-50)`,"text-anchor":"end","font-size":10.5,"font-weight":"bold","font-family":SANS,fill:"#111"},g);
    
    
    t.textContent=groups[i];
  });
  barTicks.forEach(t=>{
    const tk=mk("path",{d:`M${ch.ax-8} ${Y(t)}H${ch.ax}`,stroke:"#111","stroke-width":1.8},g);
    
    
    const lb=mk("text",{x:ch.ax-8.5,y:Y(t)+4.5,"text-anchor":"end","font-size":12,"letter-spacing":"-.6","font-weight":"bold","font-family":SANS,fill:"#111"},g);
    
    
    lb.textContent=t;
  });
  const ax=mk("path",{d:`M${ch.ax} ${Y(150)-1}V${ch.y0}H${ch.end}`,stroke:"#111","stroke-width":2.2,fill:"none"},g);
  
  
});
const labels=[["Relative Protein Content",390.5,1073,true,"y-axis-title-abcb1"],["（ %GAPDH ）",405,1073,false,"y-axis-unit-abcb1"],["Relative Phosphorylation Rate",790,1074,true,"y-axis-title-pakt"],["（ % AKT ）",805.5,1077,false,"y-axis-unit-pakt"]];
labels.forEach(l=>{
  const t=mk("text",{transform:`translate(${l[1]},${l[2]}) rotate(-90)`,"text-anchor":"middle","font-size":11,"letter-spacing":".3","font-weight":"bold","font-family":'"Liberation Serif","Noto Serif CJK SC",serif',fill:"#222"},g);
  
  
  t.textContent=l[0];
});
})();
</script>
</body>
</html>
